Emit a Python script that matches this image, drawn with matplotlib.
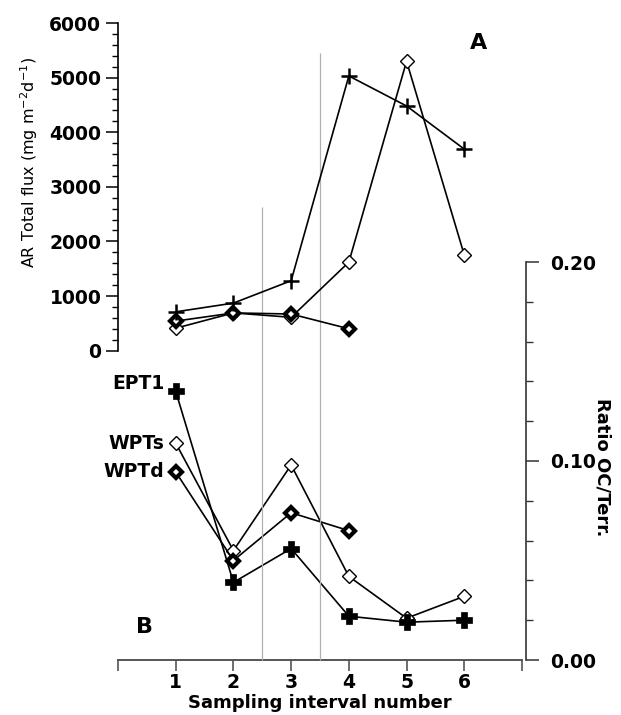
import numpy as np
import matplotlib
matplotlib.use("Agg")
import matplotlib.pyplot as plt
from matplotlib.ticker import MultipleLocator

# sampling intervals
intervals = [1, 2, 3, 4, 5, 6]

# A : total flux (mg m-2 d-1)
flux_ept1 = [710, 870, 1280, 5030, 4480, 3690]
flux_wpts = [410, 690, 610, 1620, 5300, 1750]
flux_wptd = [540, 690, 670, 400]

# B : ratio OC / terrigenous
ratio_ept1 = [0.135, 0.039, 0.056, 0.022, 0.019, 0.020]
ratio_wpts = [0.109, 0.055, 0.098, 0.042, 0.021, 0.032]
ratio_wptd = [0.0945, 0.050, 0.074, 0.065]

# separators between intervals, and how high they go on the flux scale
sep_x = [2.5, 3.5]
sep_top = [2630, 5450]

xticks = [0, 1, 2, 3, 4, 5, 6, 7]
xticklabels = ["", "1", "2", "3", "4", "5", "6", ""]

plt.rcParams['font.family'] = ['DejaVu Sans']

fig = plt.figure(figsize=(6.21, 7.15), dpi=100)
W, H = 621, 715

# axes positions in pixels
x0, x1 = 118, 522
a_bot, a_top = 350.6, 23
b_bot, b_top = 660, 262

ax2 = fig.add_axes([x0 / W, 1 - b_bot / H, (x1 - x0) / W, (b_bot - b_top) / H])
ax1 = fig.add_axes([x0 / W, 1 - a_bot / H, (x1 - x0) / W, (a_bot - a_top) / H])
ax1.patch.set_alpha(0)
ax2.patch.set_alpha(0)

# ---- panel A
ax1.set_xlim(0, 7)
ax1.set_ylim(0, 6000)
for s in ["top", "right", "bottom"]:
    ax1.spines[s].set_visible(False)
ax1.spines["left"].set_linewidth(1.2)
ax1.set_xticks([])
ax1.yaxis.set_major_locator(MultipleLocator(1000))
ax1.yaxis.set_minor_locator(MultipleLocator(200))
ax1.tick_params(axis="y", which="major", length=9, width=1.1, pad=3, labelsize=13.5)
ax1.tick_params(axis="y", which="minor", length=4.5, width=1.0)
for t in ax1.get_yticklabels():
    t.set_fontweight("bold")

ax1.plot(intervals[:len(flux_wpts)], flux_wpts, color="black", lw=1.2, marker="D",
         ms=7, mfc="white", mec="black", mew=1.0, zorder=3)
ax1.plot(intervals[:len(flux_wptd)], flux_wptd, color="black", lw=1.2, marker="D",
         ms=6, mfc="white", mec="black", mew=3.0, zorder=4)
ax1.plot(intervals[:len(flux_ept1)], flux_ept1, color="black", lw=1.2, marker="+",
         ms=11, mew=1.8, zorder=5)

ax1.text(479 / W, 1 - 43 / H, "A", transform=fig.transFigure, fontsize=16,
         fontweight="bold", ha="center", va="center")

# separators, from bottom axis line up into panel A
y_low = -(b_bot - a_bot) / (a_bot - a_top) * 6000
ax1.vlines(sep_x, y_low, sep_top, colors="#b0b0b0", lw=0.9, clip_on=False, zorder=1)

fig.text(29 / W, 1 - 162 / H, "AR Total flux (mg m$^{-2}$d$^{-1}$)", rotation=90,
         ha="center", va="center", fontsize=11.5)

# ---- panel B
ax2.set_xlim(0, 7)
ax2.set_ylim(0, 0.2)
for s in ["top", "left"]:
    ax2.spines[s].set_visible(False)
ax2.spines["right"].set_position(("outward", 3))
ax2.spines["right"].set_color("#333333")
ax2.spines["bottom"].set_color("#555555")
ax2.spines["right"].set_linewidth(1.2)
ax2.spines["bottom"].set_linewidth(1.4)
ax2.yaxis.tick_right()
ax2.yaxis.set_label_position("right")
ax2.yaxis.set_major_locator(MultipleLocator(0.1))
ax2.yaxis.set_minor_locator(MultipleLocator(0.02))
ax2.yaxis.set_major_formatter(matplotlib.ticker.FormatStrFormatter("%.2f"))
ax2.tick_params(axis="y", which="major", length=9, width=1.1, pad=8, labelsize=13.5,
                color="#333333")
ax2.tick_params(axis="y", which="minor", length=5, width=1.0, color="#333333")
ax2.set_xticks(xticks)
ax2.set_xticklabels(xticklabels)
ax2.tick_params(axis="x", which="major", length=8, width=1.2, pad=1.5, labelsize=13.5,
                color="#555555")
for t in ax2.get_yticklabels() + ax2.get_xticklabels():
    t.set_fontweight("bold")
ax2.set_xlabel("Sampling interval number", fontsize=13, fontweight="bold")
ax2.xaxis.set_label_coords((320 - x0) / (x1 - x0), -(703 - b_bot) / (b_bot - b_top))
ax2.xaxis.label.set_va("center")
ax2.set_ylabel("Ratio OC/Terr.", fontsize=13, fontweight="bold", rotation=270,
               labelpad=18)
ax2.yaxis.set_label_coords((611 - x0) / (x1 - x0), (b_bot - 467) / (b_bot - b_top))

ax2.plot(intervals[:len(ratio_wpts)], ratio_wpts, color="black", lw=1.2, marker="D",
         ms=7, mfc="white", mec="black", mew=1.0, zorder=3)
ax2.plot(intervals[:len(ratio_wptd)], ratio_wptd, color="black", lw=1.2, marker="D",
         ms=6, mfc="white", mec="black", mew=3.0, zorder=4)
ax2.plot(intervals[:len(ratio_ept1)], ratio_ept1, color="black", lw=1.2, marker="P",
         ms=11, mfc="black", mec="black", mew=0.5, zorder=5)

# series names next to the first points
for name, val in [("EPT1", ratio_ept1[0]), ("WPTs", ratio_wpts[0]), ("WPTd", ratio_wptd[0])]:
    ax2.annotate(name, (intervals[0], val), xytext=(-8, 6 if name == "EPT1" else 0),
                 textcoords="offset points", ha="right", va="center",
                 fontsize=13.5, fontweight="bold")

ax2.text(145 / W, 1 - 627 / H, "B", transform=fig.transFigure, fontsize=16,
         fontweight="bold", ha="center", va="center")

fig.savefig("out.png", dpi=100)
